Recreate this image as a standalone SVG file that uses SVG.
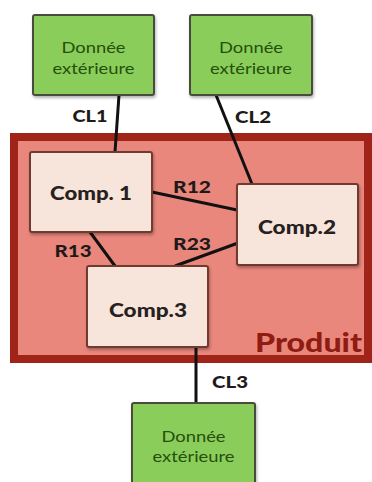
<svg xmlns="http://www.w3.org/2000/svg" width="372" height="482" viewBox="0 0 372 482">
  <defs>
    <filter id="shadow" x="-10%" y="-10%" width="125%" height="130%">
      <feDropShadow dx="1" dy="2" stdDeviation="1.5" flood-color="#000" flood-opacity="0.3"/>
    </filter>
  </defs>
  <style>
    text { font-family: "Lato", "Open Sans", sans-serif; text-anchor: middle; }
    .ext rect { fill: #8bcd5a; stroke: #4a4c3e; stroke-width: 2; }
    .ext text { font-size: 16px; fill: #24500c; }
    .comp rect { fill: #f7e4da; stroke: #6e3a2e; stroke-width: 2; }
    .comp text { font-weight: 900; font-size: 18px; fill: #262020; }
    .link line { stroke: #111; stroke-width: 3; }
    .lbl { font-weight: 900; font-size: 16px; fill: #1e1a1a; }
    .title { font-weight: 900; font-size: 26px; fill: #8e1c12; text-anchor: start; }
  </style>

  <!-- product container -->
  <g id="produit">
    <rect x="14" y="137" width="354" height="222" fill="#ea877d" stroke="#a0241a" stroke-width="8"/>
    <text class="title" x="255" y="352" textLength="107" lengthAdjust="spacingAndGlyphs">Produit</text>
  </g>

  <!-- connectors -->
  <g id="connectors" class="link">
    <line x1="119" y1="95" x2="115" y2="152"/>
    <line x1="216" y1="95" x2="252" y2="184"/>
    <line x1="152" y1="192" x2="237" y2="210"/>
    <line x1="90" y1="232" x2="115" y2="266"/>
    <line x1="238" y1="243" x2="175" y2="266"/>
    <line x1="196" y1="347" x2="196" y2="403"/>
    <text class="lbl" x="90" y="122" textLength="35" lengthAdjust="spacingAndGlyphs">CL1</text>
    <text class="lbl" x="253" y="123" textLength="36" lengthAdjust="spacingAndGlyphs">CL2</text>
    <text class="lbl" x="192" y="193" textLength="38" lengthAdjust="spacingAndGlyphs">R12</text>
    <text class="lbl" x="192" y="250" textLength="38" lengthAdjust="spacingAndGlyphs">R23</text>
    <text class="lbl" x="73" y="257" textLength="37" lengthAdjust="spacingAndGlyphs">R13</text>
    <text class="lbl" x="230" y="388" textLength="36" lengthAdjust="spacingAndGlyphs">CL3</text>
  </g>

  <!-- external data -->
  <g id="ext1" class="ext">
    <rect x="33" y="15" width="121" height="80" rx="2" filter="url(#shadow)"/>
    <text x="93.5" y="53" textLength="64" lengthAdjust="spacingAndGlyphs">Donnée</text>
    <text x="93.5" y="74" textLength="82" lengthAdjust="spacingAndGlyphs">extérieure</text>
  </g>
  <g id="ext2" class="ext">
    <rect x="190" y="15" width="122" height="80" rx="2" filter="url(#shadow)"/>
    <text x="251" y="53" textLength="64" lengthAdjust="spacingAndGlyphs">Donnée</text>
    <text x="251" y="74" textLength="82" lengthAdjust="spacingAndGlyphs">extérieure</text>
  </g>
  <g id="ext3" class="ext">
    <rect x="132" y="403" width="123" height="88" rx="2" filter="url(#shadow)"/>
    <text x="193.5" y="442" textLength="64" lengthAdjust="spacingAndGlyphs">Donnée</text>
    <text x="193.5" y="462" textLength="82" lengthAdjust="spacingAndGlyphs">extérieure</text>
  </g>

  <!-- components -->
  <g id="comp1" class="comp">
    <rect x="30" y="152" width="122" height="80" rx="2" filter="url(#shadow)"/>
    <text x="91" y="200" textLength="82" lengthAdjust="spacingAndGlyphs">Comp. 1</text>
  </g>
  <g id="comp2" class="comp">
    <rect x="237" y="184" width="121" height="81" rx="2" filter="url(#shadow)"/>
    <text x="297" y="234" textLength="78" lengthAdjust="spacingAndGlyphs">Comp.2</text>
  </g>
  <g id="comp3" class="comp">
    <rect x="87" y="266" width="121" height="81" rx="2" filter="url(#shadow)"/>
    <text x="148" y="317" textLength="78" lengthAdjust="spacingAndGlyphs">Comp.3</text>
  </g>
</svg>
